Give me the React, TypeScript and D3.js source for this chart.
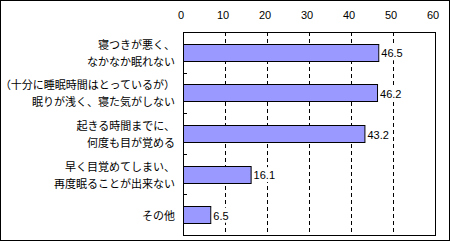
import React from "react";
import * as d3 from "d3";

const categories: string[][] = [
  ["寝つきが悪く、", "なかなか眠れない"],
  ["（十分に睡眠時間はとっているが）", "眠りが浅く、寝た気がしない"],
  ["起きる時間までに、", "何度も目が覚める"],
  ["早く目覚めてしまい、", "再度眠ることが出来ない"],
  ["その他"],
];
const values: number[] = [46.5, 46.2, 43.2, 16.1, 6.5];
const tickValues: number[] = [0, 10, 20, 30, 40, 50, 60];

const W = 450;
const H = 241;
const plot = { left: 183, right: 435, top: 32, bottom: 235 };
const FONT = "'Noto Sans CJK JP', 'Liberation Sans', sans-serif";
const NUMFONT = "'Liberation Sans', Arial, sans-serif";

export default function App() {
  const x = d3.scaleLinear().domain([0, 60]).range([plot.left, plot.right]);
  const y = d3
    .scaleBand<number>()
    .domain(d3.range(categories.length))
    .range([plot.top, plot.bottom])
    .paddingInner(0)
    .paddingOuter(0);
  const bw = y.bandwidth();
  const barH = 17;

  return (
    <svg
      width={W}
      height={H}
      style={{ position: "absolute", left: 0, top: 0, display: "block" }}
    >
      <rect x={0.5} y={0.5} width={W - 1} height={H - 1} fill="#fff" stroke="#000" />
      {/* gridlines */}
      {tickValues
        .filter((t) => t > 0 && t < 60)
        .map((t) => (
          <line
            key={t}
            x1={Math.round(x(t)) + 0.5}
            x2={Math.round(x(t)) + 0.5}
            y1={plot.top}
            y2={plot.bottom}
            stroke="#000"
            strokeDasharray="4,3"
          />
        ))}
      {/* plot border */}
      <rect
        x={plot.left + 0.5}
        y={plot.top + 0.5}
        width={plot.right - plot.left}
        height={plot.bottom - plot.top}
        fill="none"
        stroke="#000"
      />
      {/* category tick marks */}
      {d3.range(1, categories.length).map((i) => {
        const yy = Math.round(plot.top + i * bw) + 0.5;
        return (
          <line key={i} x1={plot.left} x2={plot.left + 4} y1={yy} y2={yy} stroke="#000" />
        );
      })}
      {/* top tick labels */}
      {tickValues.map((t) => (
        <text
          key={t}
          x={x(t) - 2}
          y={19}
          textAnchor="middle"
          fontFamily={NUMFONT}
          fontSize={11}
          fill="#000"
        >
          {t}
        </text>
      ))}
      {/* bars */}
      {values.map((v, i) => {
        const cy = (y(i) as number) + bw / 2;
        const by = Math.round(cy - barH / 2) + 0.5;
        return (
          <g key={i}>
            <rect
              x={plot.left + 0.5}
              y={by}
              width={x(v) - plot.left}
              height={barH}
              fill="#9999FF"
              stroke="#000"
            />
            <rect
              x={x(v) + 1.5}
              y={cy - 7}
              width={24}
              height={15}
              fill="#fff"
            />
            <text
              x={x(v) + 3}
              y={cy + 1}
              dominantBaseline="central"
              fontFamily={NUMFONT}
              fontSize={11}
              fill="#000"
            >
              {v.toFixed(1)}
            </text>
          </g>
        );
      })}
      {/* category labels */}
      {categories.map((lines, i) => {
        const cy = (y(i) as number) + bw / 2;
        const lh = 17;
        const start = cy - ((lines.length - 1) * lh) / 2;
        return lines.map((ln, j) => (
          <text
            key={i + "-" + j}
            x={175}
            y={start + j * lh}
            textAnchor="end"
            dominantBaseline="central"
            fontFamily={FONT}
            fontSize={11}
            fill="#000"
          >
            {ln}
          </text>
        ));
      })}
    </svg>
  );
}
